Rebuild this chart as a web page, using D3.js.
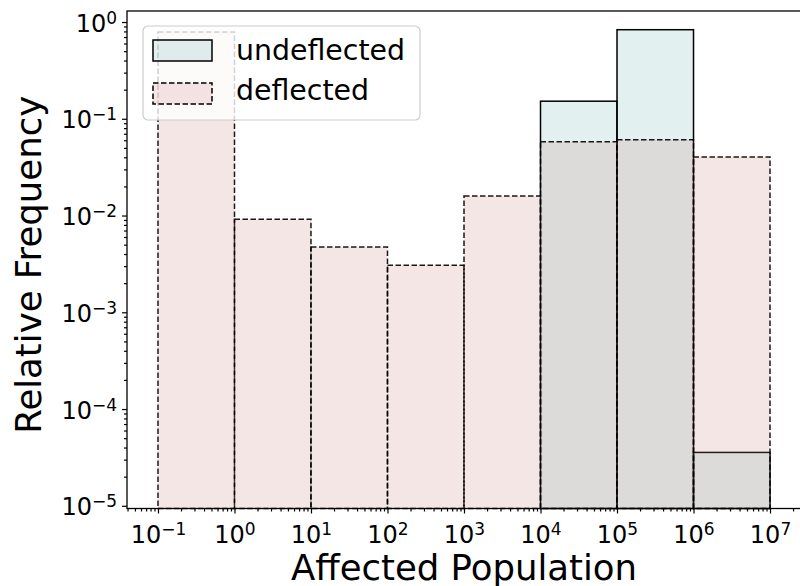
<!DOCTYPE html>
<html>
<head>
<meta charset="utf-8">
<script src="https://cdn.jsdelivr.net/npm/d3@7"></script>
<style>
  body { margin: 0; background: #fff; }
  svg { display: block; font-family: "DejaVu Sans", sans-serif; }
</style>
</head>
<body>
<svg id="svg" width="800" height="586"></svg>
<script>
// bin edges as powers of ten
var binExp = [-1, 0, 1, 2, 3, 4, 5, 6, 7];
var deflected = [0.788, 0.00916, 0.00474, 0.00307, 0.0159, 0.0580, 0.0608, 0.0403];
var undeflected = [0, 0, 0, 0, 0, 0.152, 0.833, 0.0000356];
var xTickExp = [-1, 0, 1, 2, 3, 4, 5, 6, 7];
var yTickExp = [0, -1, -2, -3, -4, -5];
var seriesNames = ["undeflected", "deflected"];

var pLeft = 127, pRight = 801, pTop = 11, pBottom = 508.5;

var svg = d3.select("#svg");

var x = d3.scaleLog().domain([Math.pow(10, -1.405), Math.pow(10, 7.405)]).range([pLeft, pRight]);
var y = d3.scaleLog().domain([Math.pow(10, -5.028), Math.pow(10, 0.114)]).range([pBottom, pTop]);

var fillU = "rgb(110,180,180)", fillD = "rgb(205,130,130)", alpha = 0.2;

function bins(vals) {
  return vals.map((v, i) => ({lo: Math.pow(10, binExp[i]), hi: Math.pow(10, binExp[i + 1]), v: v}))
             .filter(d => d.v > 0);
}

var plot = svg.append("g");

// undeflected bars
plot.selectAll("rect.und")
  .data(bins(undeflected)).enter().append("rect")
    .attr("class", "und")
    .attr("x", d => x(d.lo))
    .attr("width", d => x(d.hi) - x(d.lo))
    .attr("y", d => y(d.v))
    .attr("height", d => pBottom - y(d.v))
    .attr("fill", fillU).attr("fill-opacity", alpha)
    .attr("stroke", "#000").attr("stroke-width", 1.5);

// deflected bars
plot.selectAll("rect.def")
  .data(bins(deflected)).enter().append("rect")
    .attr("class", "def")
    .attr("x", d => x(d.lo))
    .attr("width", d => x(d.hi) - x(d.lo))
    .attr("y", d => y(d.v))
    .attr("height", d => pBottom - y(d.v))
    .attr("fill", fillD).attr("fill-opacity", alpha)
    .attr("stroke", "#000").attr("stroke-opacity", 0.9).attr("stroke-width", 1.5)
    .attr("stroke-dasharray", "5.5,2.5");

// minor ticks
var xMinor = [], yMinor = [];
for (var e = -2; e <= 7; e++) for (var k = 2; k <= 9; k++) {
  var v = k * Math.pow(10, e);
  if (v >= x.domain()[0] && v <= x.domain()[1]) xMinor.push(v);
}
for (var e = -6; e <= 0; e++) for (var k = 2; k <= 9; k++) {
  var v = k * Math.pow(10, e);
  if (v >= y.domain()[0] && v <= y.domain()[1]) yMinor.push(v);
}

svg.append("g")
    .attr("transform", "translate(0," + pBottom + ")")
  .call(d3.axisBottom(x).tickValues(xMinor).tickSize(3).tickFormat(""))
  .call(g => g.select(".domain").remove());
svg.append("g")
    .attr("transform", "translate(" + pLeft + ",0)")
  .call(d3.axisLeft(y).tickValues(yMinor).tickSize(3).tickFormat(""))
  .call(g => g.select(".domain").remove());

// major ticks with 10^n labels
function supLabel(sel, e) {
  sel.text("");
  sel.append("tspan").text("10");
  sel.append("tspan").attr("dy", "-8").style("font-size", "17px")
     .text(e < 0 ? "\u2212" + (-e) : "" + e);
}

var xAxis = svg.append("g")
    .attr("transform", "translate(0," + pBottom + ")")
  .call(d3.axisBottom(x).tickValues(xTickExp.map(e => Math.pow(10, e))).tickSize(5));
xAxis.attr("font-family", null).attr("font-size", null);
xAxis.select(".domain").remove();
xAxis.selectAll(".tick text")
    .attr("dy", null).attr("y", 34.5)
    .style("font-size", "24px").style("font-family", "'DejaVu Sans'").attr("fill", "#000")
    .attr("text-anchor", "middle")
    .each(function(d) { supLabel(d3.select(this), Math.round(Math.log10(d))); });

var yAxis = svg.append("g")
    .attr("transform", "translate(" + pLeft + ",0)")
  .call(d3.axisLeft(y).tickValues(yTickExp.map(e => Math.pow(10, e))).tickSize(5));
yAxis.attr("font-family", null).attr("font-size", null);
yAxis.select(".domain").remove();
yAxis.selectAll(".tick text")
    .attr("dy", null).attr("x", -10).attr("y", 9)
    .style("font-size", "24px").style("font-family", "'DejaVu Sans'").attr("fill", "#000")
    .attr("text-anchor", "end")
    .each(function(d) { supLabel(d3.select(this), Math.round(Math.log10(d))); });

svg.selectAll(".tick line").attr("stroke", "#000").attr("stroke-width", 1.2);

// spines
svg.append("rect")
    .attr("x", pLeft).attr("y", pTop)
    .attr("width", pRight - pLeft).attr("height", pBottom - pTop)
    .attr("fill", "none").attr("stroke", "#000").attr("stroke-width", 1.3);

// axis labels
svg.append("text")
    .attr("x", (pLeft + pRight) / 2).attr("y", 580)
    .attr("text-anchor", "middle")
    .style("font-size", "35.5px")
    .text("Affected Population");
svg.append("text")
    .attr("transform", "translate(41," + ((pTop + pBottom) / 2 + 5) + ") rotate(-90)")
    .attr("text-anchor", "middle")
    .style("font-size", "35.5px")
    .text("Relative Frequency");

// legend
var legend = svg.append("g");
legend.append("rect")
    .attr("x", 143).attr("y", 26).attr("width", 277).attr("height", 94)
    .attr("rx", 5).attr("ry", 5)
    .attr("fill", "#fff").attr("fill-opacity", 0.8)
    .attr("stroke", "#ccc").attr("stroke-width", 1.2);

legend.selectAll("rect.key")
  .data(seriesNames).enter().append("rect")
    .attr("class", "key")
    .attr("x", 153).attr("y", (d, i) => 40 + i * 43)
    .attr("width", 59).attr("height", 21)
    .attr("fill", (d, i) => i === 0 ? fillU : fillD).attr("fill-opacity", alpha)
    .attr("stroke", "#000").attr("stroke-width", 1.5)
    .attr("stroke-dasharray", (d, i) => i === 0 ? null : "5.5,2.5");

legend.selectAll("text")
  .data(seriesNames).enter().append("text")
    .attr("x", 236).attr("y", (d, i) => 60 + i * 40)
    .style("font-size", "28.4px")
    .text(d => d);
</script>
</body>
</html>
